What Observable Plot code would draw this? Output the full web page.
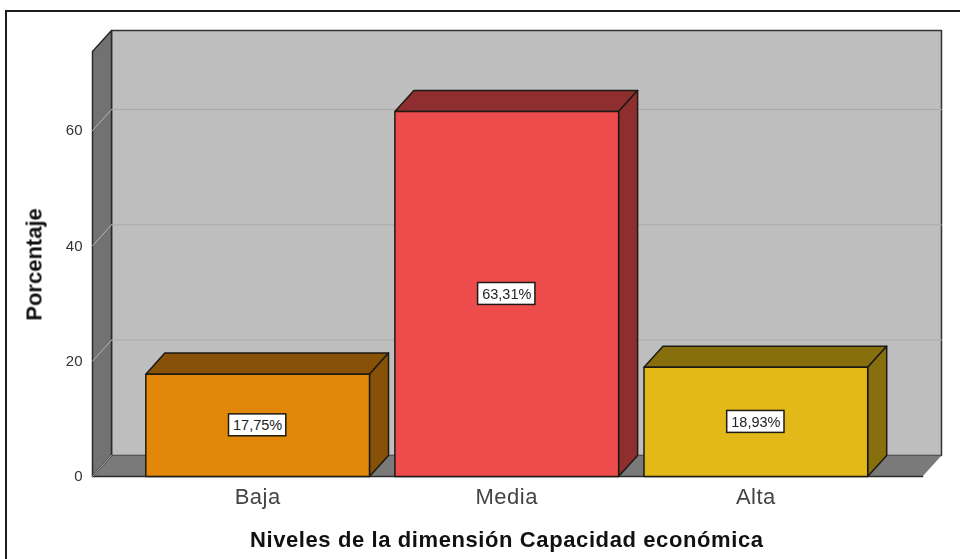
<!DOCTYPE html>
<html>
<head>
<meta charset="utf-8">
<script src="https://cdn.jsdelivr.net/npm/d3@7"></script>
<script src="https://cdn.jsdelivr.net/npm/@observablehq/plot@0.6"></script>
<style>
html,body{margin:0;padding:0;background:#fff;width:960px;height:559px;overflow:hidden}
#border{position:absolute;left:5px;top:10px;right:0;bottom:0;border-top:2.5px solid #1c1c1c;border-left:2.5px solid #1c1c1c;pointer-events:none}
#chart{position:absolute;left:0;top:0}
#chart svg{filter:blur(0.55px)}
</style>
</head>
<body>
<div id="chart"></div>
<div id="border"></div>
<script>
const categories = ["Baja", "Media", "Alta"];
const values = [17.75, 63.31, 18.93];
const labels = ["17,75%", "63,31%", "18,93%"];
const frontColors = ["#e1880b", "#ee4c4c", "#e2b918"];
const sideColors = ["#875207", "#8f2e2e", "#876f0e"];
const yTicks = [0, 20, 40, 60];
const xTitle = "Niveles de la dimensión Capacidad económica";
const yTitle = "Porcentaje";

const xMin = -0.663, xMax = 2.669, yMax = 73.7;
const depthX = 0.0763, depthY = 3.65, halfBar = 0.449;
const lineColor = "#1d1a14";

const face = (pts, fill, stroke = lineColor, strokeWidth = 1.5) =>
  Plot.line(pts, {x: d => d[0], y: d => d[1], fill, stroke, strokeWidth, curve: "linear-closed"});
const seg = (pts, stroke, strokeWidth) =>
  Plot.line(pts, {x: d => d[0], y: d => d[1], stroke, strokeWidth});

const marks = [
  // back wall, floor, left wall
  face([[xMin + depthX, depthY], [xMax + depthX, depthY], [xMax + depthX, yMax + depthY], [xMin + depthX, yMax + depthY]], "#bebebe", "#333", 1.5),
  face([[xMin, 0], [xMin + depthX, depthY], [xMax + depthX, depthY], [xMax, 0]], "#7a7a7a", "none"),
  face([[xMin, 0], [xMin + depthX, depthY], [xMin + depthX, yMax + depthY], [xMin, yMax]], "#727272", "#2a2a2a", 1.5),
  seg([[xMin, 0], [xMax, 0]], "#2a2a2a", 1.7),
  // gridlines
  ...yTicks.filter(t => t > 0).map(t => seg([[xMin + depthX, t + depthY], [xMax + depthX, t + depthY]], "#a9a9a9", 1)),
  ...yTicks.map(t => seg([[xMin, t], [xMin + depthX, t + depthY]], "#b5b5b5", 1)),
  // bars
  ...categories.flatMap((c, i) => {
    const l = i - halfBar, r = i + halfBar, v = values[i];
    return [
      face([[l, v], [r, v], [r + depthX, v + depthY], [l + depthX, v + depthY]], sideColors[i]),
      face([[r, 0], [r + depthX, depthY], [r + depthX, v + depthY], [r, v]], sideColors[i]),
      face([[l, 0], [r, 0], [r, v], [l, v]], frontColors[i])
    ];
  }),
  // value labels
  Plot.rect(categories.map((c, i) => i), {
    x1: i => i - 0.115, x2: i => i + 0.115,
    y1: i => values[i] / 2 - 1.9, y2: i => values[i] / 2 + 1.9,
    fill: "#fff", stroke: lineColor, strokeWidth: 1.5
  }),
  Plot.text(categories.map((c, i) => i), {
    x: i => i, y: i => values[i] / 2, text: i => labels[i],
    fontSize: 14.5, fill: "#222", fontFamily: "Liberation Sans"
  }),
  // axes
  Plot.axisY({ticks: yTicks, tickSize: 0, tickPadding: 10, fontSize: 15, label: null, fill: "#333", fontFamily: "Liberation Sans"}),
  Plot.axisX({ticks: [0, 1, 2], tickFormat: i => categories[i], tickSize: 0, tickPadding: 12, fontSize: 22, label: null, fill: "#444", fontFamily: "Liberation Sans"}),
  // titles
  Plot.text([xTitle], {x: () => 1, frameAnchor: "bottom", dy: 70, text: d => d, fontSize: 22, fontWeight: "bold", fill: "#111", fontFamily: "Liberation Sans"}),
  Plot.text([yTitle], {frameAnchor: "left", textAnchor: "middle", dx: -58, dy: 11, rotate: -90, text: d => d, fontSize: 22, fontWeight: "bold", fill: "#111", fontFamily: "Liberation Sans"})
];

const plot = Plot.plot({
  width: 960, height: 559,
  marginLeft: 92, marginRight: 19, marginTop: 30, marginBottom: 83,
  x: {domain: [xMin, xMax + depthX], axis: null},
  y: {domain: [0, yMax + depthY], axis: null},
  style: {background: "transparent", overflow: "visible"},
  marks
});
plot.querySelectorAll("text").forEach(t => {
  if (t.textContent === xTitle) t.style.letterSpacing = "0.6px";
  if (categories.includes(t.textContent)) t.style.letterSpacing = "0.5px";
});
document.getElementById("chart").appendChild(plot);
</script>
</body>
</html>
